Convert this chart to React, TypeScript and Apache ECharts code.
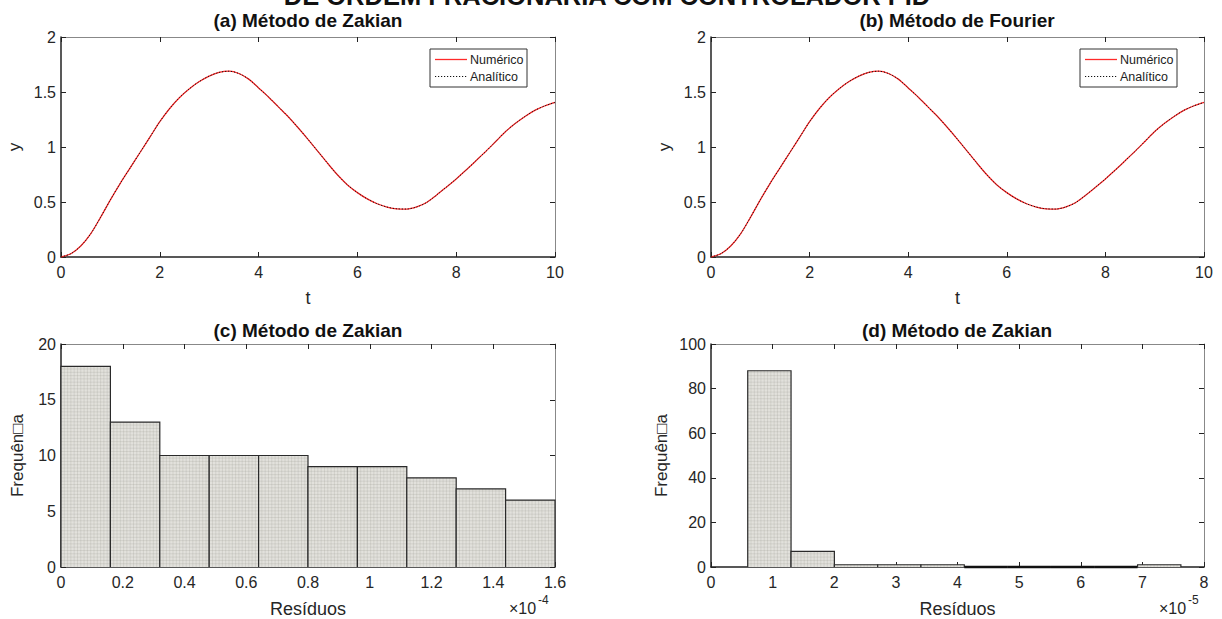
import React, { useEffect, useRef } from "react";
import * as echarts from "echarts";

// ---- data ----
const tVals = [0, 0.2, 0.4, 0.6, 0.8, 1, 1.2, 1.4, 1.6, 1.8, 2, 2.2, 2.4, 2.6, 2.8, 3, 3.2, 3.4, 3.6, 3.8, 4, 4.2, 4.4, 4.6, 4.8, 5, 5.2, 5.4, 5.6, 5.8, 6, 6.2, 6.4, 6.6, 6.8, 7, 7.2, 7.4, 7.6, 7.8, 8, 8.2, 8.4, 8.6, 8.8, 9, 9.2, 9.4, 9.6, 9.8, 10];
const yNumerico = [0, 0.03, 0.1, 0.21, 0.36, 0.52, 0.67, 0.81, 0.95, 1.09, 1.23, 1.35, 1.45, 1.53, 1.595, 1.645, 1.678, 1.689, 1.668, 1.617, 1.537, 1.455, 1.365, 1.275, 1.175, 1.07, 0.96, 0.85, 0.745, 0.655, 0.585, 0.528, 0.484, 0.454, 0.438, 0.436, 0.455, 0.495, 0.562, 0.635, 0.71, 0.79, 0.875, 0.96, 1.05, 1.14, 1.215, 1.28, 1.335, 1.375, 1.405];
const yAnalitico = [0, 0.03, 0.1, 0.21, 0.36, 0.52, 0.67, 0.81, 0.95, 1.09, 1.23, 1.35, 1.45, 1.53, 1.595, 1.645, 1.678, 1.689, 1.668, 1.617, 1.537, 1.455, 1.365, 1.275, 1.175, 1.07, 0.96, 0.85, 0.745, 0.655, 0.585, 0.528, 0.484, 0.454, 0.438, 0.436, 0.455, 0.495, 0.562, 0.635, 0.71, 0.79, 0.875, 0.96, 1.05, 1.14, 1.215, 1.28, 1.335, 1.375, 1.405];

// histogram (c): residuals in units of 1e-4
const binEdgesC = [0, 0.16, 0.32, 0.48, 0.64, 0.8, 0.96, 1.12, 1.28, 1.44, 1.6];
const countsC = [18, 13, 10, 10, 10, 9, 9, 8, 7, 6];
// histogram (d): residuals in units of 1e-5
const binEdgesD = [0.596, 1.299, 2.002, 2.705, 3.407, 4.11, 4.813, 5.516, 6.219, 6.922, 7.625];
const countsD = [88, 7, 1, 1, 1, 0, 0, 0, 0, 1];

const titles = ["(a) Método de Zakian", "(b) Método de Fourier", "(c) Método de Zakian", "(d) Método de Zakian"];
const mainTitle = "DE ORDEM FRACIONÁRIA COM CONTROLADOR PID";
const legendNames = ["Numérico", "Analítico"];

const FONT = "'Liberation Sans', Arial, sans-serif";
const TXT = "#262626";
const RED = "#ff2a2a";

function histData(edges: number[], counts: number[]) {
  return counts.map((c, i) => [edges[i], edges[i + 1], c]);
}

function renderBar(params: any, api: any) {
  const x0 = api.value(0);
  const x1 = api.value(1);
  const c = api.value(2);
  const p0 = api.coord([x0, c]);
  const p1 = api.coord([x1, 0]);
  if (c === 0) {
    return {
      type: "line",
      shape: { x1: p0[0], y1: p1[1], x2: p1[0], y2: p1[1] },
      style: { stroke: "#111", lineWidth: 2.5 },
    };
  }
  const w = p1[0] - p0[0];
  const h = p1[1] - p0[1];
  const children: any[] = [
    { type: "rect", shape: { x: p0[0], y: p0[1], width: w, height: h }, style: { fill: "#e2e1dc" } },
  ];
  const step = 3.3;
  for (let gx = p0[0] + step; gx < p1[0] - 0.5; gx += step) {
    children.push({ type: "line", shape: { x1: gx, y1: p0[1], x2: gx, y2: p1[1] }, style: { stroke: "rgba(150,150,140,0.35)", lineWidth: 0.6 } });
  }
  for (let gy = p1[1] - step; gy > p0[1] + 0.5; gy -= step) {
    children.push({ type: "line", shape: { x1: p0[0], y1: gy, x2: p1[0], y2: gy }, style: { stroke: "rgba(150,150,140,0.35)", lineWidth: 0.6 } });
  }
  children.push({
    type: "polyline",
    shape: { points: [[p0[0], p1[1]], [p0[0], p0[1]], [p1[0], p0[1]], [p1[0], p1[1]]] },
    style: { stroke: "#2a2a2a", fill: null, lineWidth: 1.2 },
  });
  return { type: "group", children };
}

const grids = [
  { left: 61, top: 37, width: 494, height: 220 },
  { left: 711, top: 37, width: 493, height: 220 },
  { left: 61, top: 344, width: 494, height: 223 },
  { left: 711, top: 344, width: 493, height: 223 },
];

function legendGraphic(x: number, y: number) {
  return {
    type: "group", x, y, z: 100,
    children: [
      { type: "rect", shape: { x: 0, y: 0, width: 97, height: 38 }, style: { fill: "#fff", stroke: "#333", lineWidth: 1 } },
      { type: "line", shape: { x1: 5, y1: 10.5, x2: 37, y2: 10.5 }, style: { stroke: RED, lineWidth: 1.3 } },
      { type: "line", shape: { x1: 5, y1: 27.5, x2: 37, y2: 27.5 }, style: { stroke: "#111", lineWidth: 1, lineDash: [1.2, 1.8] } },
      { type: "text", x: 40, y: 11, style: { text: legendNames[0], fontFamily: FONT, fontSize: 12.5, fill: "#222", align: "left", verticalAlign: "middle" } },
      { type: "text", x: 40, y: 28, style: { text: legendNames[1], fontFamily: FONT, fontSize: 12.5, fill: "#222", align: "left", verticalAlign: "middle" } },
    ],
  };
}

export default function App() {
  const ref = useRef<HTMLDivElement>(null);
  useEffect(() => {
    if (!ref.current) return;
    const chart = echarts.init(ref.current, undefined, { renderer: "svg" });

    const xCfg = [
      { min: 0, max: 10, interval: 2, name: "t", gap: 32 },
      { min: 0, max: 10, interval: 2, name: "t", gap: 32 },
      { min: 0, max: 1.6, interval: 0.2, name: "Resíduos", gap: 33 },
      { min: 0, max: 8, interval: 1, name: "Resíduos", gap: 33 },
    ];
    const yCfg = [
      { min: 0, max: 2, interval: 0.5, name: "y", gap: 38 },
      { min: 0, max: 2, interval: 0.5, name: "y", gap: 38 },
      { min: 0, max: 20, interval: 5, name: "Frequên□a", gap: 35 },
      { min: 0, max: 100, interval: 20, name: "Frequên□a", gap: 41 },
    ];

    const xAxis: any[] = [];
    const yAxis: any[] = [];
    grids.forEach((g, i) => {
      const xc = xCfg[i];
      const yc = yCfg[i];
      xAxis.push({
        type: "value", gridIndex: i, position: "bottom", min: xc.min, max: xc.max, interval: xc.interval,
        name: xc.name, nameLocation: "middle", nameGap: xc.gap,
        nameTextStyle: { fontFamily: FONT, fontSize: 18, color: TXT },
        axisLine: { show: true, onZero: false, lineStyle: { color: "#222", width: 1.5 } },
        axisTick: { show: true, inside: true, length: 5, lineStyle: { color: "#222" } },
        axisLabel: { fontFamily: FONT, fontSize: 16, color: TXT, margin: 7 },
        splitLine: { show: false },
      });
      xAxis.push({
        type: "value", gridIndex: i, position: "top", min: xc.min, max: xc.max, interval: xc.interval,
        axisLine: { show: true, onZero: false, lineStyle: { color: "#888", width: 1 } },
        axisTick: { show: true, inside: true, length: 5, lineStyle: { color: "#222" } },
        axisLabel: { show: false },
        splitLine: { show: false },
      });
      yAxis.push({
        type: "value", gridIndex: i, position: "left", min: yc.min, max: yc.max, interval: yc.interval,
        name: yc.name, nameLocation: "middle", nameGap: yc.gap, nameRotate: 90,
        nameTextStyle: { fontFamily: FONT, fontSize: 17, color: TXT },
        axisLine: { show: true, onZero: false, lineStyle: { color: "#222", width: 1.5 } },
        axisTick: { show: true, inside: true, length: 5, lineStyle: { color: "#222" } },
        axisLabel: { fontFamily: FONT, fontSize: 16, color: TXT, margin: 5 },
        splitLine: { show: false },
      });
      yAxis.push({
        type: "value", gridIndex: i, position: "right", min: yc.min, max: yc.max, interval: yc.interval,
        axisLine: { show: true, onZero: false, lineStyle: { color: "#888", width: 1 } },
        axisTick: { show: true, inside: true, length: 5, lineStyle: { color: "#222" } },
        axisLabel: { show: false },
        splitLine: { show: false },
      });
    });

    const lineData = (ys: number[]) => tVals.map((t, k) => [t, ys[k]]);
    const series: any[] = [];
    [0, 1].forEach((i) => {
      series.push({
        type: "line", name: legendNames[0], xAxisIndex: 2 * i, yAxisIndex: 2 * i,
        data: lineData(yNumerico), smooth: 0.3, symbol: "none", showSymbol: false,
        lineStyle: { color: RED, width: 1.3, type: "solid" }, z: 3,
      });
      series.push({
        type: "line", name: legendNames[1], xAxisIndex: 2 * i, yAxisIndex: 2 * i,
        data: lineData(yAnalitico), smooth: 0.3, symbol: "none", showSymbol: false,
        lineStyle: { color: "#111", width: 1, type: [1.2, 1.8] }, z: 4,
      });
    });
    series.push({
      type: "custom", xAxisIndex: 4, yAxisIndex: 4, renderItem: renderBar,
      data: histData(binEdgesC, countsC), encode: { x: [0, 1], y: 2 }, z: 3,
    });
    series.push({
      type: "custom", xAxisIndex: 6, yAxisIndex: 6, renderItem: renderBar,
      data: histData(binEdgesD, countsD), encode: { x: [0, 1], y: 2 }, z: 3,
    });

    const titleCenters = [308, 957, 308, 957];
    const titleYs = [20, 20, 330, 330];
    const graphics: any[] = titles.map((t, i) => ({
      type: "text", x: titleCenters[i], y: titleYs[i],
      style: { text: t, fontFamily: FONT, fontSize: 19, fontWeight: "bold", fill: "#111", align: "center", verticalAlign: "middle" },
    }));
    graphics.push({
      type: "text", x: 607, y: -4,
      style: { text: mainTitle, fontFamily: FONT, fontSize: 25.5, fontWeight: "bold", fill: "#111", align: "center", verticalAlign: "middle" },
    });
    const expo = [
      { x: 509, base: "×10", sup: "-4" },
      { x: 1159, base: "×10", sup: "-5" },
    ];
    expo.forEach((e) => {
      graphics.push({ type: "text", x: e.x, y: 608, style: { text: e.base, fontFamily: FONT, fontSize: 16, fill: TXT, align: "left", verticalAlign: "middle" } });
      graphics.push({ type: "text", x: e.x + 29, y: 600, style: { text: e.sup, fontFamily: FONT, fontSize: 12, fill: TXT, align: "left", verticalAlign: "middle" } });
    });
    graphics.push(legendGraphic(430, 49));
    graphics.push(legendGraphic(1080, 49));

    chart.setOption({
      animation: false,
      backgroundColor: "#fff",
      grid: grids.map((g) => ({ ...g, containLabel: false })),
      xAxis, yAxis, series,
      graphic: graphics,
    });
    return () => chart.dispose();
  }, []);

  return <div ref={ref} style={{ position: "fixed", left: 0, top: 0, width: 1222, height: 619 }} />;
}
